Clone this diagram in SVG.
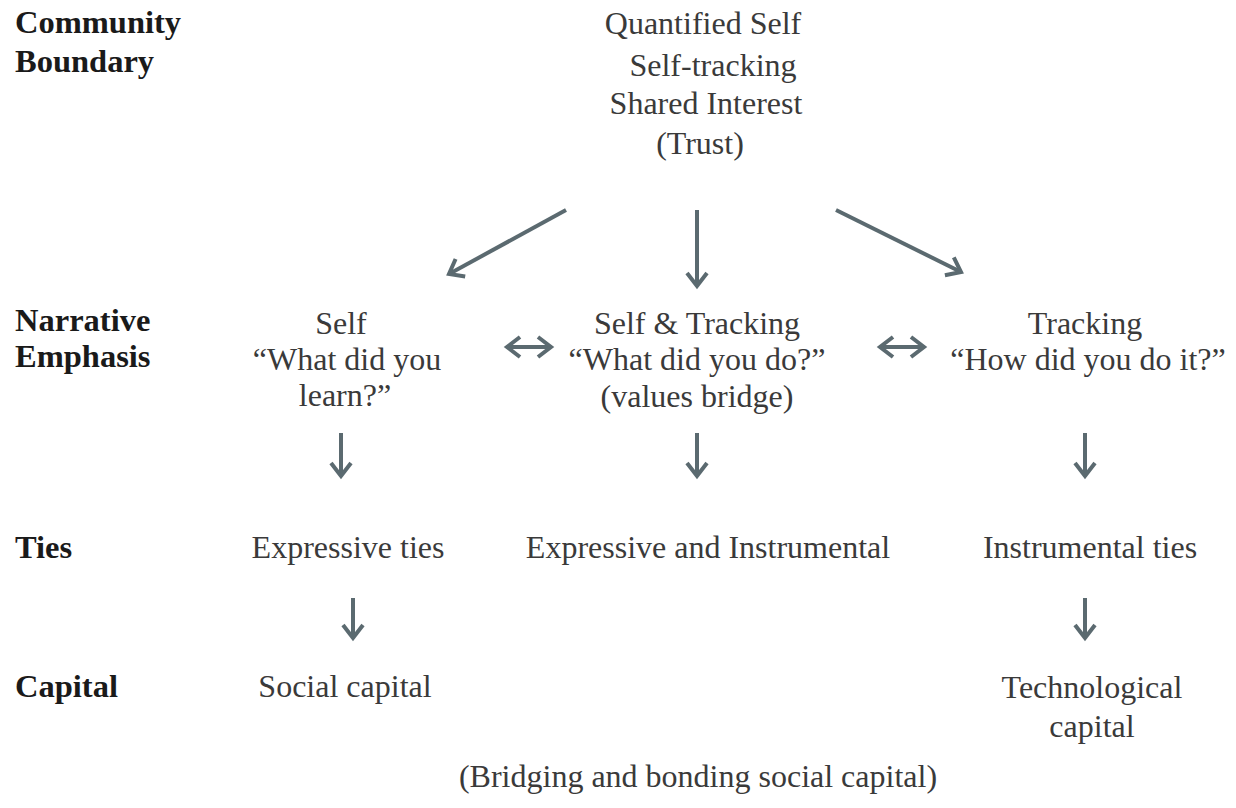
<svg xmlns="http://www.w3.org/2000/svg" width="1236" height="808" viewBox="0 0 1236 808">
<style>
.t{font-family:"Liberation Serif","Times New Roman",serif;font-size:32px;fill:#3a3a3a;text-anchor:middle}
.h{font-family:"Liberation Serif","Times New Roman",serif;font-size:32.5px;font-weight:bold;fill:#1a1a1a}
.c{stroke:#5b6a70;stroke-width:4;fill:none;stroke-linecap:butt}
</style>
<defs>
<marker id="ah" markerUnits="userSpaceOnUse" viewBox="-16 -12 20 24" markerWidth="20" markerHeight="24" refX="0" refY="0" orient="auto-start-reverse">
<polyline points="-13,-10 0,0 -13,10" fill="none" stroke="#5b6a70" stroke-width="4" stroke-linejoin="miter"/>
</marker>
</defs>
<rect width="1236" height="808" fill="#ffffff"/>
<g id="labels">
<text class="h" x="15" y="33">Community</text>
<text class="h" x="15" y="72">Boundary</text>
<text class="h" x="15" y="331">Narrative</text>
<text class="h" x="15" y="367">Emphasis</text>
<text class="h" x="15" y="558">Ties</text>
<text class="h" x="15" y="697">Capital</text>
</g>
<g id="top">
<text class="t" x="703" y="34">Quantified Self</text>
<text class="t" x="713" y="76">Self-tracking</text>
<text class="t" x="706" y="114">Shared Interest</text>
<text class="t" x="700" y="154">(Trust)</text>
</g>
<g id="self">
<text class="t" x="341" y="334">Self</text>
<text class="t" x="347" y="370">“What did you</text>
<text class="t" x="345" y="406">learn?”</text>
</g>
<g id="selftracking">
<text class="t" x="697" y="334">Self &amp; Tracking</text>
<text class="t" x="697" y="370">“What did you do?”</text>
<text class="t" x="697" y="407">(values bridge)</text>
</g>
<g id="tracking">
<text class="t" x="1085" y="334">Tracking</text>
<text class="t" x="1088" y="370">“How did you do it?”</text>
</g>
<g id="expressive"><text class="t" x="348" y="558">Expressive ties</text></g>
<g id="expinst"><text class="t" x="708" y="558">Expressive and Instrumental</text></g>
<g id="instrumental"><text class="t" x="1090" y="558">Instrumental ties</text></g>
<g id="social"><text class="t" x="345" y="697">Social capital</text></g>
<g id="tech">
<text class="t" x="1092" y="698">Technological</text>
<text class="t" x="1092" y="737">capital</text>
</g>
<g id="bridging"><text class="t" x="698" y="787">(Bridging and bonding social capital)</text></g>
<g id="connectors">
<line class="c" x1="566" y1="210" x2="449" y2="274" marker-end="url(#ah)"/>
<line class="c" x1="697" y1="210" x2="697" y2="286" marker-end="url(#ah)"/>
<line class="c" x1="836" y1="210" x2="961" y2="272" marker-end="url(#ah)"/>
<line class="c" x1="507" y1="347" x2="551" y2="347" marker-start="url(#ah)" marker-end="url(#ah)"/>
<line class="c" x1="880" y1="347" x2="924" y2="347" marker-start="url(#ah)" marker-end="url(#ah)"/>
<line class="c" x1="341" y1="433" x2="341" y2="476" marker-end="url(#ah)"/>
<line class="c" x1="697" y1="433" x2="697" y2="476" marker-end="url(#ah)"/>
<line class="c" x1="1085" y1="433" x2="1085" y2="476" marker-end="url(#ah)"/>
<line class="c" x1="353" y1="598" x2="353" y2="638" marker-end="url(#ah)"/>
<line class="c" x1="1085" y1="598" x2="1085" y2="638" marker-end="url(#ah)"/>
</g>
</svg>
